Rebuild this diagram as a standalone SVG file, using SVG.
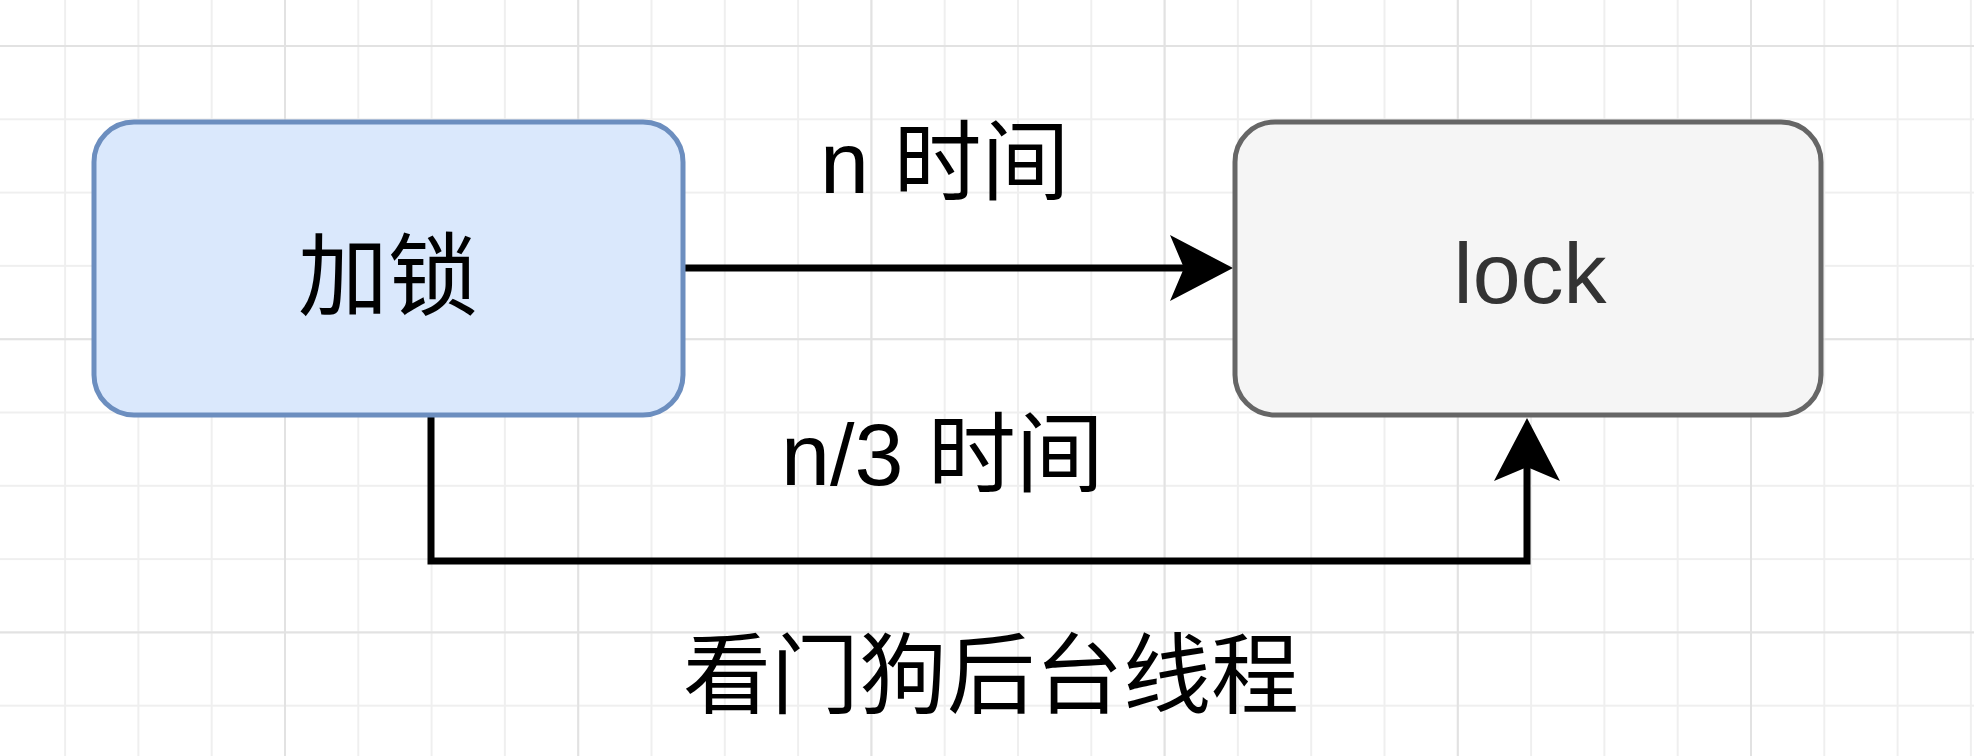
<svg xmlns="http://www.w3.org/2000/svg" width="1974" height="756" viewBox="0 0 1974 756">
  <style>
    .node-blue { fill: #dae8fc; stroke: #6c8ebf; stroke-width: 5; }
    .node-gray { fill: #f5f5f5; stroke: #666666; stroke-width: 5; }
    .label { font-family: "Liberation Sans", "Noto Sans CJK SC", sans-serif; fill: #000000; }
    .edge { fill: none; stroke: #000000; stroke-width: 7; stroke-linejoin: miter; stroke-linecap: butt; }
  </style>
  <defs>
    <!-- minor grid: 73.3 px cells -->
    <pattern id="gridMinor" patternUnits="userSpaceOnUse" x="64.1" y="45" width="73.3" height="73.3">
      <path d="M1,0 V73.3 M0,1 H73.3" fill="none" stroke="#efefef" stroke-width="2"/>
    </pattern>
    <!-- major grid: every fourth line -->
    <pattern id="gridMajor" patternUnits="userSpaceOnUse" x="284" y="45" width="293.2" height="293.2">
      <path d="M1,0 V293.2 M0,1 H293.2" fill="none" stroke="#e2e2e2" stroke-width="2"/>
    </pattern>
    <!-- classic arrowhead, origin at the notch so the line stops under the head -->
    <marker id="arrow" markerUnits="userSpaceOnUse" markerWidth="80" markerHeight="80" refX="0" refY="0" orient="auto" overflow="visible">
      <path d="M49,0 L-14,-33 L0,0 L-14,33 Z" fill="#000000"/>
    </marker>
  </defs>

  <!-- canvas -->
  <rect x="0" y="0" width="1974" height="756" fill="#ffffff"/>
  <rect x="0" y="0" width="1974" height="756" fill="url(#gridMinor)"/>
  <rect x="0" y="0" width="1974" height="756" fill="url(#gridMajor)"/>

  <!-- connectors -->
  <g id="connectors">
    <path class="edge" d="M683,268 H1184" marker-end="url(#arrow)"/>
    <path class="edge" d="M431,417 V561 H1527 V467" marker-end="url(#arrow)"/>
    <text class="label" x="820" y="193" font-size="88">n 时间</text>
    <text class="label" x="781" y="485" font-size="88">n/3 时间</text>
  </g>

  <!-- node: acquire lock -->
  <g id="node-acquire">
    <rect class="node-blue" x="94" y="122" width="589" height="293" rx="40" ry="40"/>
    <text class="label" x="388" y="308" font-size="90" text-anchor="middle">加锁</text>
  </g>

  <!-- node: lock -->
  <g id="node-lock">
    <rect class="node-gray" x="1235" y="122" width="586" height="293" rx="40" ry="40"/>
    <text class="label" x="1530" y="303" font-size="86" text-anchor="middle" style="fill:#333333">lock</text>
  </g>

  <!-- caption -->
  <g id="caption">
    <text class="label" x="991" y="706" font-size="88" text-anchor="middle">看门狗后台线程</text>
  </g>
</svg>
